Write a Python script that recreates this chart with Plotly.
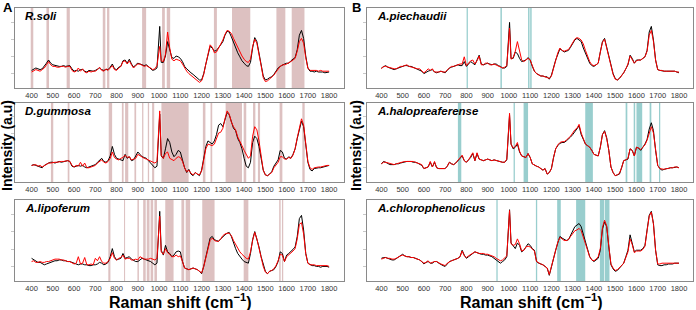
import plotly.graph_objects as go

# ---------------- data ----------------
WAVENUMBER = [
    400, 410, 420, 430, 440, 450, 460, 470, 480, 490,
    500, 510, 520, 530, 540, 550, 560, 570, 580, 590,
    600, 610, 620, 630, 640, 650, 660, 670, 680, 690,
    700, 710, 720, 730, 740, 750, 760, 770, 780, 790,
    800, 810, 820, 830, 840, 850, 860, 870, 880, 890,
    900, 910, 920, 930, 940, 950, 960, 970, 980, 990,
    1003, 1010, 1020, 1030, 1040, 1050, 1060, 1070, 1080, 1090,
    1100, 1110, 1120, 1130, 1140, 1150, 1160, 1170, 1180, 1190,
    1200, 1210, 1220, 1230, 1240, 1250, 1260, 1270, 1280, 1290,
    1300, 1310, 1320, 1330, 1340, 1350, 1360, 1370, 1380, 1390,
    1400, 1410, 1420, 1430, 1440, 1450, 1460, 1470, 1480, 1490,
    1500, 1510, 1520, 1530, 1540, 1550, 1560, 1570, 1580, 1590,
    1600, 1610, 1620, 1630, 1640, 1650, 1660, 1670, 1680, 1690,
    1700, 1710, 1720, 1730, 1740, 1750, 1760, 1770, 1780, 1790,
    1800]

X_TICKS = [400, 500, 600, 700, 800, 900, 1000, 1100, 1200, 1300, 1400, 1500, 1600, 1700, 1800]

R_SOLI_BLACK = [
    22, 24, 25, 24, 23, 24, 27, 31, 35, 31,
    29, 28, 28, 27, 27, 28, 27, 28, 28, 24,
    21, 22, 21, 23, 23, 21, 20, 22, 21, 21,
    22, 24, 25, 23, 22, 23, 23, 26, 30, 24,
    23, 26, 27, 34, 35, 31, 36, 30, 26, 29,
    31, 30, 29, 28, 29, 27, 24, 22, 23, 25,
    77, 32, 32, 40, 58, 48, 38, 37, 40, 39,
    37, 33, 27, 24, 21, 19, 17, 15, 12, 10,
    10, 18, 30, 42, 52, 50, 46, 47, 50, 54,
    58, 66, 71, 70, 64, 57, 50, 44, 39, 34,
    31, 28, 27, 32, 50, 63, 58, 45, 30, 15,
    10, 11, 13, 14, 17, 21, 25, 27, 29, 30,
    31, 31, 34, 36, 38, 48, 66, 72, 62, 40,
    25, 21, 21, 20, 21, 20, 20, 20, 19, 20,
    20]
R_SOLI_RED = [
    20, 22, 23, 22, 21, 23, 25, 29, 33, 29,
    27, 27, 26, 26, 27, 27, 26, 27, 27, 22,
    20, 21, 25, 21, 24, 20, 19, 21, 20, 21,
    21, 23, 26, 22, 21, 24, 22, 25, 28, 23,
    22, 25, 27, 33, 34, 30, 34, 29, 25, 28,
    30, 30, 28, 27, 28, 27, 25, 23, 24, 28,
    52, 34, 33, 42, 70, 50, 36, 34, 36, 35,
    34, 30, 25, 21, 18, 16, 14, 12, 9, 7,
    9, 17, 30, 44, 54, 51, 44, 45, 50, 55,
    60, 67, 72, 71, 68, 62, 56, 50, 46, 40,
    36, 33, 32, 36, 52, 61, 56, 44, 28, 13,
    8, 9, 11, 13, 16, 20, 24, 27, 29, 29,
    30, 31, 33, 35, 37, 46, 58, 62, 56, 38,
    25, 22, 22, 22, 22, 21, 22, 21, 21, 21,
    21]

D_GUMMOSA_BLACK = [
    21, 22, 21, 20, 20, 18, 21, 23, 24, 25,
    25, 24, 25, 26, 25, 26, 27, 27, 26, 20,
    19, 20, 21, 20, 21, 19, 18, 19, 20, 21,
    22, 25, 27, 30, 26, 25, 27, 33, 45, 35,
    30, 29, 28, 27, 35, 30, 32, 27, 28, 33,
    38, 35, 32, 31, 30, 27, 24, 20, 18, 20,
    86, 33, 30, 42, 55, 50, 38, 32, 35, 40,
    38, 28, 18, 12, 16, 10, 8, 12, 10, 8,
    15, 30, 45, 52, 50, 48, 52, 60, 72, 74,
    70, 80, 88, 85, 75, 68, 65, 55, 50, 42,
    30, 20, 18, 25, 50, 58, 55, 45, 30, 15,
    9, 8, 10, 13, 20, 25, 28, 40, 38, 30,
    29, 32, 30, 35, 42, 55, 68, 77, 70, 45,
    25, 16, 14, 17, 18, 18, 18, 19, 19, 21,
    21]
D_GUMMOSA_RED = [
    21, 22, 22, 20, 21, 19, 21, 23, 24, 24,
    25, 25, 25, 26, 26, 26, 27, 27, 26, 21,
    19, 21, 20, 25, 20, 24, 18, 18, 19, 20,
    21, 24, 26, 28, 25, 24, 26, 30, 38, 31,
    29, 28, 30, 31, 34, 31, 32, 28, 29, 30,
    35, 33, 31, 30, 29, 28, 27, 25, 24, 26,
    90, 34, 30, 36, 38, 30, 28, 27, 30, 32,
    31, 26, 18, 13, 15, 11, 9, 12, 10, 9,
    14, 28, 42, 48, 47, 46, 48, 55, 62, 63,
    68, 80, 90, 86, 76, 70, 66, 57, 52, 46,
    40, 35, 30, 33, 58, 70, 66, 52, 32, 15,
    9, 8, 10, 12, 18, 22, 25, 32, 32, 29,
    29, 31, 30, 34, 42, 56, 70, 80, 72, 46,
    26, 18, 16, 18, 19, 19, 19, 20, 20, 21,
    21]

A_LIPOFERUM_BLACK = [
    28, 26, 24, 23, 23, 21, 20, 21, 22, 23,
    24, 25, 25, 26, 26, 25, 25, 24, 24, 23,
    22, 21, 20, 21, 21, 20, 20, 19, 19, 20,
    20, 21, 23, 22, 20, 21, 23, 30, 40, 30,
    26, 27, 28, 34, 28, 29, 30, 27, 25, 24,
    24, 26, 28, 27, 26, 25, 24, 22, 20, 22,
    86, 38, 32, 44, 36, 34, 30, 32, 36, 37,
    36, 24, 16, 15, 14, 15, 16, 15, 14, 12,
    9, 18, 30, 44, 53, 55, 51, 50, 49, 52,
    55, 57, 59, 60, 55, 47, 40, 34, 30, 27,
    24, 23, 22, 34, 51, 61, 53, 42, 30, 20,
    12, 9, 12, 13, 14, 18, 24, 36, 34, 24,
    32, 34, 36, 39, 42, 55, 77, 81, 63, 34,
    22, 20, 19, 19, 18, 18, 17, 18, 18, 18,
    17]
A_LIPOFERUM_RED = [
    24, 25, 23, 23, 24, 23, 23, 24, 24, 25,
    26, 27, 27, 27, 26, 26, 25, 24, 24, 22,
    21, 22, 30, 21, 22, 29, 20, 20, 21, 20,
    28, 25, 30, 24, 22, 22, 24, 28, 35, 28,
    26, 28, 29, 32, 27, 28, 28, 26, 26, 27,
    26, 30, 28, 27, 27, 27, 28, 27, 26, 28,
    80, 36, 33, 40, 35, 33, 30, 30, 32, 30,
    31, 24, 16, 15, 14, 15, 16, 15, 14, 12,
    10, 18, 30, 42, 50, 53, 50, 49, 49, 52,
    56, 58, 59, 59, 56, 50, 45, 40, 36, 33,
    30, 28, 27, 36, 50, 60, 52, 40, 28, 18,
    11, 9, 12, 13, 15, 19, 25, 33, 32, 24,
    30, 32, 34, 37, 40, 52, 70, 72, 58, 34,
    22, 20, 20, 20, 19, 19, 19, 19, 19, 19,
    18]

A_PIECHAUDII_BLACK = [
    25, 27, 28, 26, 25, 24, 23, 24, 25, 26,
    27, 28, 28, 27, 27, 26, 25, 24, 23, 21,
    18, 20, 21, 22, 23, 20, 19, 20, 21, 20,
    19, 22, 25, 26, 27, 28, 29, 28, 28, 33,
    27, 30, 33, 31, 29, 35, 41, 30, 29, 30,
    31, 30, 29, 30, 30, 28, 27, 25, 25, 27,
    82, 37, 37, 45, 43, 37, 33, 34, 35, 38,
    35, 27, 21, 18, 16, 15, 15, 14, 14, 11,
    16, 26, 35, 42, 49, 47, 45, 46, 47, 51,
    56, 60, 62, 60, 58, 50, 43, 37, 31, 28,
    27, 29, 31, 45, 58, 62, 51, 38, 27, 18,
    12, 10, 12, 15, 19, 24, 29, 41, 37, 31,
    35, 35, 35, 37, 39, 47, 70, 77, 60, 35,
    23, 22, 21, 21, 21, 21, 21, 21, 21, 20,
    19]
A_PIECHAUDII_RED = [
    24, 27, 27, 26, 26, 25, 24, 24, 25, 27,
    27, 28, 29, 27, 26, 26, 25, 24, 24, 22,
    19, 21, 24, 22, 24, 20, 20, 20, 21, 20,
    20, 23, 25, 27, 27, 28, 29, 30, 30, 39,
    28, 31, 34, 35, 30, 34, 40, 29, 29, 31,
    31, 29, 29, 30, 29, 28, 26, 25, 26, 28,
    75, 36, 38, 46, 58, 44, 35, 33, 35, 37,
    35, 27, 21, 18, 16, 15, 15, 14, 13, 12,
    15, 26, 36, 44, 50, 47, 46, 47, 48, 52,
    57, 61, 63, 62, 60, 55, 47, 40, 33, 29,
    28, 29, 31, 45, 57, 61, 50, 37, 26, 17,
    11, 10, 12, 15, 19, 24, 30, 40, 36, 31,
    34, 35, 35, 37, 39, 46, 66, 72, 58, 35,
    23, 22, 22, 21, 21, 21, 21, 21, 21, 20,
    20]

A_HALOPREAFERENSE_BLACK = [
    23, 26, 25, 23, 22, 22, 22, 23, 23, 24,
    25, 25, 26, 26, 26, 25, 25, 24, 23, 21,
    17, 18, 19, 25, 19, 25, 18, 17, 17, 17,
    17, 20, 25, 23, 22, 24, 27, 30, 33, 27,
    25, 28, 31, 36, 27, 36, 29, 28, 27, 28,
    29, 28, 27, 28, 27, 26, 25, 25, 25, 28,
    85, 48, 42, 44, 48, 38, 33, 32, 31, 36,
    31, 23, 21, 20, 19, 17, 15, 17, 10, 12,
    17, 31, 42, 46, 49, 50, 50, 52, 54, 57,
    60, 64, 67, 71, 60, 53, 48, 46, 44, 40,
    35, 34, 33, 44, 60, 65, 56, 40, 19, 12,
    8, 9, 10, 18, 27, 28, 29, 42, 40, 33,
    44, 43, 40, 44, 48, 54, 67, 75, 65, 40,
    21, 17, 15, 16, 17, 17, 18, 18, 19, 19,
    18]
A_HALOPREAFERENSE_RED = [
    23, 25, 25, 24, 23, 22, 22, 23, 24, 25,
    25, 26, 26, 26, 26, 26, 25, 24, 23, 22,
    17, 18, 19, 26, 19, 26, 18, 17, 17, 17,
    17, 20, 25, 23, 22, 24, 27, 31, 34, 27,
    25, 28, 32, 37, 27, 37, 29, 28, 27, 28,
    29, 28, 27, 28, 27, 26, 25, 25, 25, 29,
    87, 48, 43, 45, 50, 39, 33, 32, 31, 36,
    31, 23, 21, 20, 19, 17, 15, 17, 10, 12,
    17, 31, 42, 47, 50, 51, 51, 53, 55, 58,
    62, 66, 68, 73, 62, 54, 48, 46, 44, 40,
    35, 34, 33, 44, 60, 64, 55, 40, 19, 12,
    8, 9, 11, 18, 27, 28, 30, 42, 40, 33,
    44, 43, 41, 44, 47, 53, 63, 70, 62, 40,
    21, 17, 16, 16, 17, 17, 18, 18, 19, 19,
    18]

A_CHLOROPHENOLICUS_BLACK = [
    28, 29, 29, 28, 27, 26, 26, 28, 30, 31,
    33, 31, 30, 30, 29, 29, 28, 27, 26, 24,
    21, 23, 24, 22, 22, 24, 24, 22, 20, 19,
    18, 21, 24, 25, 26, 27, 28, 30, 38, 32,
    28, 30, 32, 35, 36, 35, 34, 33, 33, 32,
    32, 31, 30, 28, 26, 24, 22, 24, 26, 30,
    88, 47, 44, 40, 47, 44, 36, 38, 42, 46,
    44, 40, 38, 24, 22, 21, 20, 18, 16, 7,
    18, 28, 38, 47, 55, 53, 51, 50, 51, 56,
    61, 67, 69, 71, 67, 57, 47, 38, 30, 26,
    24, 26, 28, 38, 64, 73, 67, 42, 20, 15,
    12, 13, 16, 19, 22, 30, 38, 57, 47, 36,
    38, 38, 38, 40, 44, 63, 81, 86, 71, 38,
    20, 19, 19, 20, 20, 21, 21, 21, 22, 22,
    22]
A_CHLOROPHENOLICUS_RED = [
    27, 28, 29, 28, 28, 27, 27, 28, 30, 31,
    32, 31, 30, 30, 29, 29, 28, 27, 26, 24,
    22, 23, 25, 22, 23, 24, 24, 22, 21, 20,
    19, 22, 24, 25, 26, 27, 28, 30, 37, 31,
    29, 31, 33, 35, 36, 35, 34, 34, 34, 33,
    33, 32, 31, 30, 28, 26, 25, 26, 28, 31,
    87, 46, 44, 45, 52, 46, 37, 38, 42, 43,
    42, 39, 37, 24, 22, 21, 20, 18, 16, 8,
    18, 28, 39, 48, 54, 52, 50, 50, 51, 55,
    59, 62, 63, 65, 62, 55, 46, 38, 30, 26,
    25, 27, 30, 40, 66, 75, 68, 43, 21, 16,
    13, 14, 16, 19, 22, 29, 36, 52, 45, 35,
    37, 37, 37, 39, 43, 62, 80, 85, 70, 38,
    21, 21, 22, 22, 22, 22, 22, 22, 22, 22,
    22]

# highlighted wavenumber bands (start, end)
R_SOLI_BANDS = [(396, 408), (470, 482), (565, 580), (735, 747), (755, 766), (920, 939),
                (1014, 1027), (1036, 1052), (1258, 1272), (1343, 1429), (1552, 1594), (1624, 1684)]
D_GUMMOSA_BANDS = [(491, 502), (570, 578), (763, 779), (825, 833), (840, 855), (884, 892),
                   (920, 926), (947, 953), (967, 977), (1011, 1139), (1206, 1218), (1242, 1250),
                   (1313, 1390), (1398, 1410), (1442, 1453), (1465, 1475), (1567, 1580), (1674, 1685)]
A_LIPOFERUM_BANDS = [(761, 771), (835, 840), (898, 905), (925, 937), (942, 955), (960, 972),
                     (978, 990), (1029, 1068), (1105, 1118), (1125, 1146), (1203, 1261),
                     (1398, 1420), (1565, 1572), (1578, 1584)]
A_PIECHAUDII_BANDS = [(801, 807), (960, 967), (1090, 1097), (1100, 1107)]
A_HALOPREAFERENSE_BANDS = [(760, 776), (1022, 1028), (1069, 1090), (1359, 1395), (1549, 1557),
                           (1587, 1594), (1600, 1627), (1662, 1670), (1706, 1712)]
A_CHLOROPHENOLICUS_BANDS = [(941, 947), (1127, 1133), (1227, 1244), (1316, 1359),
                            (1428, 1448), (1451, 1473)]

PANEL_NAMES = ["R.soli", "D.gummosa", "A.lipoferum",
               "A.piechaudii", "A.halopreaferense", "A.chlorophenolicus"]

# ---------------- layout ----------------
W, H = 696, 310
FONT = "Liberation Sans, Arial, sans-serif"
COL_X = {"A": (15, 344), "B": (366.5, 693)}
COL_RANGE = {"A": [322, 1870], "B": [330, 1866]}
ROW_Y = [(8, 88), (103, 182), (200, 281)]
BAND_COLOR = {"A": "rgba(200,155,155,0.62)", "B": "rgba(110,185,185,0.7)"}

panels = [
    ("A", 0, R_SOLI_BLACK, R_SOLI_RED, R_SOLI_BANDS),
    ("A", 1, D_GUMMOSA_BLACK, D_GUMMOSA_RED, D_GUMMOSA_BANDS),
    ("A", 2, A_LIPOFERUM_BLACK, A_LIPOFERUM_RED, A_LIPOFERUM_BANDS),
    ("B", 0, A_PIECHAUDII_BLACK, A_PIECHAUDII_RED, A_PIECHAUDII_BANDS),
    ("B", 1, A_HALOPREAFERENSE_BLACK, A_HALOPREAFERENSE_RED, A_HALOPREAFERENSE_BANDS),
    ("B", 2, A_CHLOROPHENOLICUS_BLACK, A_CHLOROPHENOLICUS_RED, A_CHLOROPHENOLICUS_BANDS),
]

fig = go.Figure()
layout = dict(width=W, height=H, margin=dict(l=0, r=0, t=0, b=0, pad=0),
              paper_bgcolor="white", plot_bgcolor="white", showlegend=False,
              font=dict(family=FONT, color="#222"))
shapes, annotations = [], []

for i, (col, row, black, red, bands) in enumerate(panels):
    n = i + 1
    xs = "" if n == 1 else str(n)
    x0, x1 = COL_X[col]
    ytop, ybot = ROW_Y[row]
    layout["xaxis" + xs] = dict(
        domain=[x0 / W, x1 / W], range=COL_RANGE[col], anchor="y" + xs,
        showline=True, mirror=True, linecolor="#8a8a8a", linewidth=1,
        showgrid=False, zeroline=False, tickvals=X_TICKS, ticks="", ticklabelstandoff=0,
        tickfont=dict(size=7.5, color="#333"))
    layout["yaxis" + xs] = dict(
        domain=[1 - ybot / H, 1 - ytop / H], range=[0, 100], anchor="x" + xs,
        showline=True, mirror=True, linecolor="#8a8a8a", linewidth=1,
        showgrid=False, zeroline=False, tickvals=[18, 39.5, 61, 82.5],
        ticks="outside", ticklen=3, tickcolor="#c8c8c8", showticklabels=False)
    for (b0, b1) in bands:
        shapes.append(dict(type="rect", xref="x" + xs, yref="y" + xs + " domain",
                           x0=b0, x1=b1, y0=0, y1=1, fillcolor=BAND_COLOR[col],
                           line=dict(width=0), layer="below"))
    fig.add_trace(go.Scatter(x=WAVENUMBER, y=black, mode="lines", xaxis="x" + xs, yaxis="y" + xs,
                             line=dict(color="#000000", width=1)))
    fig.add_trace(go.Scatter(x=WAVENUMBER, y=red, mode="lines", xaxis="x" + xs, yaxis="y" + xs,
                             line=dict(color="#ff0000", width=1)))
    annotations.append(dict(text="<b><i>%s</i></b>" % PANEL_NAMES[i], xref="paper", yref="paper",
                            x=(x0 + 8) / W, y=1 - (ytop + 7.5) / H, xanchor="left", yanchor="middle",
                            showarrow=False, font=dict(size=11.5, color="#000")))

# panel letters
annotations.append(dict(text="<b>A</b>", xref="paper", yref="paper", x=1 / W, y=1 - 8 / H,
                        xanchor="left", yanchor="middle", showarrow=False, font=dict(size=13, color="#000")))
annotations.append(dict(text="<b>B</b>", xref="paper", yref="paper", x=350 / W, y=1 - 8 / H,
                        xanchor="left", yanchor="middle", showarrow=False, font=dict(size=13, color="#000")))
# axis titles
for xc in (7, 356):
    annotations.append(dict(text="<b>Intensity (a.u)</b>", xref="paper", yref="paper",
                            x=xc / W, y=1 - 146 / H, textangle=-90, xanchor="center", yanchor="middle",
                            showarrow=False, font=dict(size=14, color="#000")))
for xc in (181, 531):
    annotations.append(dict(text="<b>Raman shift (cm<sup>−1</sup>)</b>", xref="paper", yref="paper",
                            x=xc / W, y=1 - 301 / H, xanchor="center", yanchor="middle",
                            showarrow=False, font=dict(size=16, color="#000")))

layout["shapes"] = shapes
layout["annotations"] = annotations
fig.update_layout(**layout)
fig.write_html("out.html", config={"displayModeBar": False},
               post_script="document.body.style.margin='0';document.body.style.overflow='hidden';")
